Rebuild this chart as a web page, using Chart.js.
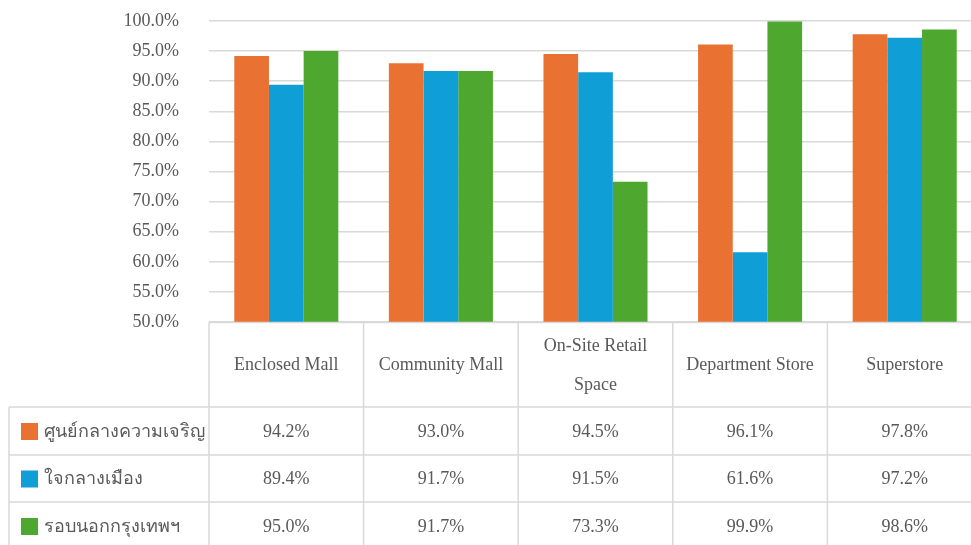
<!DOCTYPE html>
<html>
<head>
<meta charset="utf-8">
<script src="https://cdn.jsdelivr.net/npm/chart.js@4"></script>
<style>
html,body{margin:0;padding:0;background:#fff;overflow:hidden;}
#wrap{width:982px;height:545px;}
</style>
</head>
<body>
<div id="wrap"><canvas id="c" width="982" height="545"></canvas></div>
<script>
const categories = ['Enclosed Mall', 'Community Mall', ['On-Site Retail', 'Space'], 'Department Store', 'Superstore'];
const seriesNames = ['ศูนย์กลางความเจริญ', 'ใจกลางเมือง', 'รอบนอกกรุงเทพฯ'];
const seriesCBD = [94.2, 93.0, 94.5, 96.1, 97.8];
const seriesCity = [89.4, 91.7, 91.5, 61.6, 97.2];
const seriesSuburb = [95.0, 91.7, 73.3, 99.9, 98.6];
const seriesColors = ['#E97132', '#0F9ED5', '#4EA72E'];
const yMin = 50, yMax = 100, yStep = 5;

const allSeries = [seriesCBD, seriesCity, seriesSuburb];
const FONT = '"Liberation Serif", "Times New Roman", serif';
const TXT = '#595959';
const LINE = '#d9d9d9';

const tablePlugin = {
  id: 'dataTable',
  afterDraw(chart) {
    const ctx = chart.ctx;
    const x = chart.scales.x;
    const area = chart.chartArea;
    const n = categories.length;
    const w = (area.right - area.left) / n;
    const headTop = area.bottom;
    const headBottom = headTop + 85;
    const rowH = [48, 47, 48];
    const rowTops = [headBottom];
    for (let i = 0; i < rowH.length; i++) rowTops.push(rowTops[i] + rowH[i]);
    const tableLeft = 9;
    ctx.save();
    ctx.strokeStyle = LINE;
    ctx.lineWidth = 1.5;
    ctx.beginPath();
    ctx.moveTo(area.left, headTop + 0.5); ctx.lineTo(chart.width, headTop + 0.5);
    for (let r = 0; r < rowTops.length; r++) {
      ctx.moveTo(tableLeft, rowTops[r]); ctx.lineTo(chart.width, rowTops[r]);
    }
    for (let i = 0; i <= n; i++) {
      const vx = area.left + i * w;
      ctx.moveTo(vx, headTop); ctx.lineTo(vx, chart.height + 5);
    }
    ctx.moveTo(tableLeft, headBottom); ctx.lineTo(tableLeft, chart.height + 5);
    ctx.stroke();

    ctx.fillStyle = TXT;
    ctx.textAlign = 'center';
    ctx.textBaseline = 'middle';
    ctx.font = '18px ' + FONT;
    categories.forEach((c, i) => {
      const cx = x.getPixelForValue(i);
      const cy = (headTop + headBottom) / 2 + 1;
      if (Array.isArray(c)) {
        const gap = 39;
        c.forEach((line, k) => {
          ctx.fillText(line, cx, cy + (k - (c.length - 1) / 2) * gap);
        });
      } else {
        ctx.fillText(c, cx, cy);
      }
    });
    allSeries.forEach((s, r) => {
      const cy = (rowTops[r] + rowTops[r] + rowH[r]) / 2 + 1;
      s.forEach((v, i) => {
        ctx.textAlign = 'center';
        ctx.fillStyle = TXT;
        ctx.fillText(v.toFixed(1) + '%', x.getPixelForValue(i), cy);
      });
      ctx.fillStyle = seriesColors[r];
      ctx.fillRect(21, cy - 9, 17, 17);
      ctx.fillStyle = TXT;
      ctx.textAlign = 'left';
      ctx.fillText(seriesNames[r], 44, cy);
    });
    ctx.restore();
  }
};

new Chart(document.getElementById('c'), {
  type: 'bar',
  data: {
    labels: categories,
    datasets: allSeries.map((s, i) => ({
      label: seriesNames[i],
      data: s,
      backgroundColor: seriesColors[i],
      borderWidth: 0,
      categoryPercentage: 0.673,
      barPercentage: 1.0
    }))
  },
  options: {
    responsive: false,
    animation: false,
    layout: { padding: { left: 0, right: 0, top: 21, bottom: 223 } },
    plugins: { legend: { display: false }, tooltip: { enabled: false } },
    scales: {
      x: { display: false },
      y: {
        min: yMin, max: yMax,
        afterFit(scale) { scale.width = 209; },
        border: { display: false },
        grid: { color: LINE, lineWidth: 1.5, drawTicks: true, tickLength: 30, tickColor: 'rgba(0,0,0,0)' },
        ticks: {
          stepSize: yStep,
          padding: 0,
          color: TXT,
          font: { family: FONT, size: 18 },
          callback: v => v.toFixed(1) + '%'
        }
      }
    }
  },
  plugins: [tablePlugin]
});
</script>
</body>
</html>
